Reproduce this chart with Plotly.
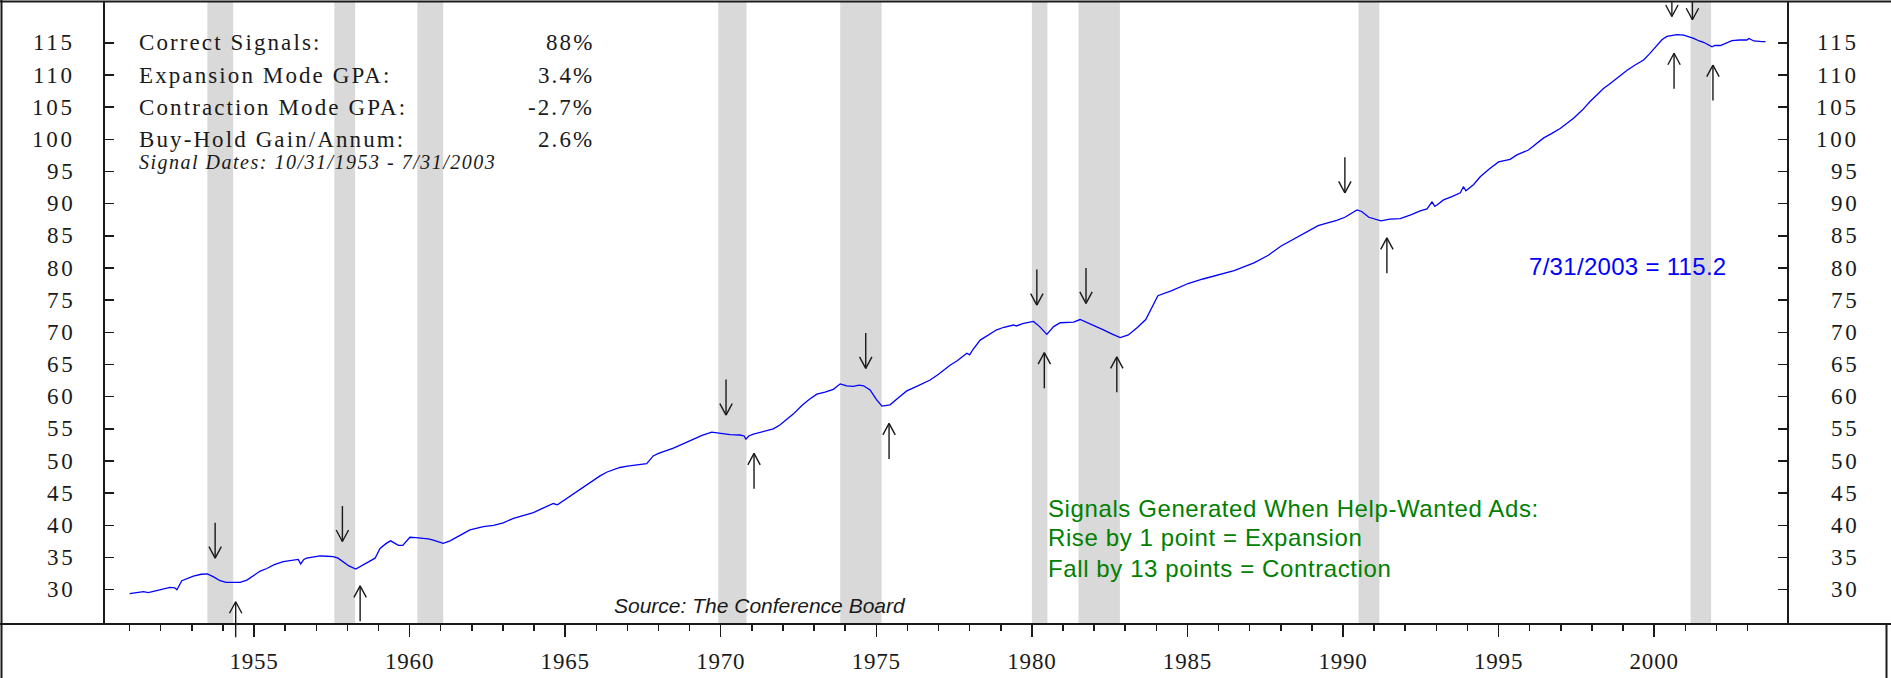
import plotly.graph_objects as go

# ---------------- data ----------------
years = [1951.00, 1951.25, 1951.45, 1951.60, 1951.87, 1952.10, 1952.30, 1952.45, 1952.52, 1952.68,
         1952.85, 1953.05, 1953.30, 1953.50, 1953.70, 1953.91, 1954.10, 1954.33, 1954.55, 1954.77,
         1955.00, 1955.20, 1955.41, 1955.65, 1955.94, 1956.20, 1956.42, 1956.50, 1956.60, 1956.69,
         1956.90, 1957.12, 1957.35, 1957.55, 1957.70, 1957.87, 1958.05, 1958.27, 1958.45, 1958.62,
         1958.89, 1959.05, 1959.25, 1959.39, 1959.55, 1959.64, 1959.78, 1959.90, 1960.01, 1960.20,
         1960.44, 1960.60, 1960.76, 1960.95, 1961.08, 1961.30, 1961.52, 1961.75, 1961.94, 1962.15,
         1962.37, 1962.70, 1963.01, 1963.34, 1963.65, 1963.98, 1964.20, 1964.45, 1964.62, 1964.75,
         1964.84, 1965.10, 1965.48, 1965.80, 1966.12, 1966.35, 1966.55, 1966.76, 1967.00, 1967.41,
         1967.62, 1967.83, 1968.00, 1968.48, 1968.80, 1969.12, 1969.40, 1969.71, 1969.98, 1970.30,
         1970.62, 1970.75, 1970.81, 1970.90, 1971.05, 1971.35, 1971.69, 1971.90, 1972.10, 1972.33,
         1972.60, 1972.85, 1973.09, 1973.35, 1973.62, 1973.84, 1974.05, 1974.26, 1974.45, 1974.59,
         1974.80, 1975.00, 1975.18, 1975.44, 1975.70, 1975.98, 1976.30, 1976.73, 1977.00, 1977.37,
         1977.60, 1977.80, 1977.91, 1978.00, 1978.10, 1978.34, 1978.60, 1978.87, 1979.10, 1979.41,
         1979.50, 1979.70, 1980.05, 1980.25, 1980.48, 1980.70, 1980.91, 1981.34, 1981.55, 1981.80,
         1982.09, 1982.30, 1982.60, 1982.84, 1983.10, 1983.40, 1983.66, 1984.05, 1984.50, 1985.02,
         1985.50, 1985.99, 1986.50, 1987.14, 1987.60, 1988.00, 1988.30, 1988.80, 1989.20, 1989.48,
         1989.80, 1990.06, 1990.45, 1990.60, 1990.83, 1991.22, 1991.50, 1991.84, 1992.20, 1992.48,
         1992.70, 1992.86, 1992.95, 1993.02, 1993.23, 1993.50, 1993.77, 1993.87, 1993.95, 1994.20,
         1994.41, 1994.70, 1995.00, 1995.37, 1995.59, 1995.96, 1996.20, 1996.44, 1996.70, 1996.98,
         1997.20, 1997.41, 1997.70, 1997.94, 1998.20, 1998.37, 1998.59, 1998.85, 1999.12, 1999.40,
         1999.66, 1999.85, 2000.09, 2000.25, 2000.41, 2000.73, 2000.95, 2001.10, 2001.27, 2001.45,
         2001.59, 2001.86, 2001.95, 2002.13, 2002.30, 2002.50, 2002.75, 2002.98, 2003.05, 2003.20,
         2003.46, 2003.58]
values = [29.4, 29.6, 29.7, 29.55, 29.9, 30.1, 30.35, 30.3, 30.0, 31.4,
          31.7, 32.1, 32.4, 32.45, 32.0, 31.4, 31.15, 31.1, 31.15, 31.5,
          32.2, 32.9, 33.3, 33.9, 34.35, 34.5, 34.7, 34.0, 34.7, 34.9,
          35.1, 35.25, 35.2, 35.15, 34.9, 34.35, 33.7, 33.2, 33.7, 34.2,
          34.9, 36.4, 37.2, 37.6, 37.1, 36.9, 36.9, 37.6, 38.15, 38.1,
          38.0, 37.9, 37.7, 37.35, 37.2, 37.6, 38.25, 38.8, 39.3, 39.6,
          39.8, 40.0, 40.4, 41.1, 41.5, 42.0, 42.5, 43.0, 43.4, 43.2,
          43.5, 44.3, 45.5, 46.6, 47.7, 48.3, 48.6, 49.0, 49.2, 49.5,
          49.6, 50.8, 51.2, 52.0, 52.7, 53.4, 54.0, 54.5, 54.3, 54.1,
          54.05, 53.9, 53.4, 53.9, 54.2, 54.6, 55.0, 55.6, 56.4, 57.3,
          58.6, 59.6, 60.4, 60.7, 61.15, 62.0, 61.7, 61.6, 61.8, 61.7,
          61.05, 59.6, 58.55, 58.75, 59.8, 60.9, 61.6, 62.6, 63.5, 64.9,
          65.6, 66.3, 66.75, 66.5, 67.3, 68.8, 69.6, 70.4, 70.8, 71.15,
          71.0, 71.35, 71.7, 70.9, 69.7, 70.9, 71.5, 71.6, 72.0, 71.5,
          70.8, 70.4, 69.7, 69.2, 69.6, 70.8, 72.0, 75.7, 76.5, 77.6,
          78.3, 78.9, 79.6, 80.8, 82.0, 83.4, 84.2, 85.6, 86.6, 87.0,
          87.4, 87.9, 89.05, 88.8, 87.9, 87.35, 87.6, 87.7, 88.3, 88.9,
          89.2, 90.3, 89.6, 89.8, 90.6, 91.1, 91.7, 92.65, 92.0, 93.0,
          94.2, 95.4, 96.5, 96.9, 97.6, 98.35, 99.3, 100.2, 100.9, 101.7,
          102.5, 103.3, 104.6, 105.9, 107.1, 107.9, 108.7, 109.7, 110.7, 111.6,
          112.35, 113.3, 114.7, 115.5, 116.0, 116.3, 116.2, 116.0, 115.7, 115.3,
          115.1, 114.4, 114.6, 114.6, 115.0, 115.35, 115.45, 115.45, 115.7, 115.3,
          115.2, 115.2]

rec_start = [1953.50, 1957.58, 1960.25, 1969.92, 1973.84, 1980.00, 1981.50, 1990.50, 2001.17]
rec_end = [1954.33, 1958.25, 1961.08, 1970.83, 1975.17, 1980.50, 1982.83, 1991.17, 2001.83]

down_years = [1953.75, 1957.84, 1970.17, 1974.66, 1980.16, 1981.74, 1990.06, 2000.57, 2001.23]
down_tips = [34.9, 37.5, 57.15, 64.4, 74.25, 74.5, 91.7, 119.1, 118.6]
up_years = [1954.41, 1958.41, 1971.07, 1975.41, 1980.40, 1982.73, 1991.41, 2000.64, 2001.89]
up_tips = [28.13, 30.6, 51.2, 55.85, 66.85, 66.2, 84.7, 113.4, 111.55]

y_ticks = list(range(30, 120, 5))
x_major = [1955, 1960, 1965, 1970, 1975, 1980, 1985, 1990, 1995, 2000]
x_minor = list(range(1951, 2004))

stats_labels = ["Correct Signals:", "Expansion Mode GPA:", "Contraction Mode GPA:", "Buy-Hold Gain/Annum:"]
stats_values = ["88%", "3.4%", "-2.7%", "2.6%"]
stats_rows = [115, 110, 105, 100]
signal_dates = "Signal Dates: 10/31/1953 - 7/31/2003"
rule_lines = ["Signals Generated When Help-Wanted Ads:",
              "Rise by 1 point = Expansion",
              "Fall by 13 points = Contraction"]
last_label = "7/31/2003 = 115.2"
source_label = "Source: The Conference Board"

# ---------------- layout constants ----------------
W, H = 1891, 678
ML, MR, MT, MB = 105, 104, 2, 54
PW, PH = W - ML - MR, H - MT - MB
XR = [1950.21, 2004.27]
YR = [24.67, 121.36]


def px_x(p):
    return (p - ML) / PW


def px_y(p):
    return (H - MB - p) / PH


def spaced(txt, ls):
    return '<span style="letter-spacing:%.2fpx">%s</span>' % (ls, txt)


SERIF = "Liberation Serif, Times New Roman, serif"
SANS = "Liberation Sans, Arial, sans-serif"
INK = "#1a1a1a"

fig = go.Figure()
fig.add_trace(go.Scatter(x=years, y=values, mode="lines",
                         line=dict(color="#0000ff", width=1.3),
                         hoverinfo="skip", showlegend=False))

shapes = []
for a, b in zip(rec_start, rec_end):
    shapes.append(dict(type="rect", xref="x", yref="paper", x0=a, x1=b, y0=0, y1=1,
                       fillcolor="#d9d9d9", line=dict(width=0), layer="below"))
# frame lines
shapes.append(dict(type="line", xref="paper", yref="paper", x0=px_x(-5), x1=px_x(W + 5),
                   y0=0, y1=0, line=dict(color=INK, width=2)))
shapes.append(dict(type="line", xref="paper", yref="paper", x0=px_x(-5), x1=px_x(W + 5),
                   y0=px_y(1.5), y1=px_y(1.5), line=dict(color=INK, width=2)))
shapes.append(dict(type="line", xref="paper", yref="paper", x0=px_x(1.5), x1=px_x(1.5),
                   y0=px_y(H + 5), y1=px_y(0), line=dict(color=INK, width=2)))
shapes.append(dict(type="line", xref="paper", yref="paper", x0=px_x(1886.5), x1=px_x(1886.5),
                   y0=px_y(H + 5), y1=0, line=dict(color=INK, width=2)))

ann = []
# arrows: shaft + two barbs, pixel-offset styling
ALEN, BW, BH = 37, 7, 13
for xv, yv in zip(down_years, down_tips):
    for ax, ay in [(0, -ALEN), (-BW, -BH), (BW, -BH)]:
        ann.append(dict(x=xv, y=yv, xref="x", yref="y", text="", showarrow=True,
                        arrowhead=0, arrowwidth=1.4, arrowcolor=INK, ax=ax, ay=ay,
                        standoff=0, font=dict(size=1)))
for xv, yv in zip(up_years, up_tips):
    for ax, ay in [(0, ALEN), (-BW, BH), (BW, BH)]:
        ann.append(dict(x=xv, y=yv, xref="x", yref="y", text="", showarrow=True,
                        arrowhead=0, arrowwidth=1.4, arrowcolor=INK, ax=ax, ay=ay,
                        standoff=0, font=dict(size=1)))

# y tick labels on both sides (right aligned, tracked serif)
for v in y_ticks:
    for xp in (76.5, 1860.5):
        ann.append(dict(x=px_x(xp), y=v, xref="paper", yref="y", text=spaced(str(v), 2.7),
                        showarrow=False, xanchor="right", yanchor="middle",
                        font=dict(family=SERIF, size=23, color=INK)))

# statistics block
for lab, val, row in zip(stats_labels, stats_values, stats_rows):
    ann.append(dict(x=px_x(137), y=row, xref="paper", yref="y", text=spaced(lab, 2.1),
                    showarrow=False, xanchor="left", yanchor="middle",
                    font=dict(family=SERIF, size=23, color=INK)))
    ann.append(dict(x=px_x(596), y=row, xref="paper", yref="y", text=spaced(val, 2.1),
                    showarrow=False, xanchor="right", yanchor="middle",
                    font=dict(family=SERIF, size=23, color=INK)))
ann.append(dict(x=px_x(137), y=96.4, xref="paper", yref="y",
                text="<i>" + spaced(signal_dates, 1.5) + "</i>",
                showarrow=False, xanchor="left", yanchor="middle",
                font=dict(family=SERIF, size=20, color=INK)))

for line, yv in zip(rule_lines, [42.7, 38.04, 33.37]):
    ann.append(dict(x=1980.46, y=yv, xref="x", yref="y", text=spaced(line, 0.6), showarrow=False,
                    xanchor="left", yanchor="middle",
                    font=dict(family=SANS, size=24, color="#008000")))

ann.append(dict(x=1999.15, y=80.2, xref="x", yref="y", text=spaced(last_label, 0.3),
                showarrow=False, xanchor="center", yanchor="middle",
                font=dict(family=SANS, size=24, color="#0000ff")))
ann.append(dict(x=1971.27, y=27.6, xref="x", yref="y", text="<i>" + source_label + "</i>",
                showarrow=False, xanchor="center", yanchor="middle",
                font=dict(family=SANS, size=21, color=INK)))

fig.update_layout(
    width=W, height=H, margin=dict(l=ML, r=MR, t=MT, b=MB, autoexpand=False),
    plot_bgcolor="white", paper_bgcolor="white", showlegend=False,
    shapes=shapes, annotations=ann,
    xaxis=dict(range=XR, tickmode="array", tickvals=x_major,
               ticktext=[spaced(str(v), 0.8) for v in x_major],
               ticks="outside", ticklen=12, tickwidth=1.5, tickcolor=INK,
               showline=False, showgrid=False, zeroline=False, ticklabelstandoff=4,
               automargin=False,
               tickfont=dict(family=SERIF, size=23, color=INK),
               minor=dict(tickmode="array", tickvals=x_minor, ticks="outside", ticklen=6,
                          tickwidth=1.5, tickcolor=INK, showgrid=False)),
    yaxis=dict(range=YR, tickmode="array", tickvals=y_ticks, ticks="inside", ticklen=9,
               tickwidth=1.5, tickcolor=INK, showline=True, linewidth=2, linecolor=INK,
               mirror="ticks", showgrid=False, zeroline=False, showticklabels=False,
               automargin=False),
)

fig.write_html("out.html", config={"displayModeBar": False, "staticPlot": True},
               post_script="document.body.style.margin='0px';document.body.style.overflow='hidden';")
